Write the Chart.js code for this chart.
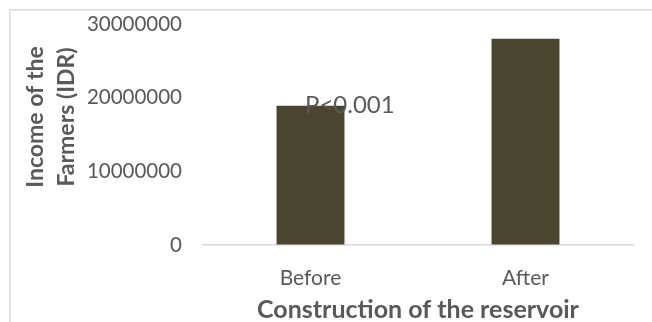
<!DOCTYPE html>
<html>
<head>
<meta charset="utf-8">
<script src="https://cdn.jsdelivr.net/npm/chart.js@4.4.1/dist/chart.umd.min.js"></script>
<style>
  html, body { margin: 0; padding: 0; background: #ffffff; }
  #wrap { width: 652px; height: 322px; position: relative; }
</style>
</head>
<body>
<div id="wrap"><canvas id="chart" width="652" height="322"></canvas></div>
<script>
// Farmers' income before and after the reservoir was built (IDR)
const categories = ['Before', 'After'];
const incomeValues = [18900000, 28000000];
const yTickValues = [0, 10000000, 20000000, 30000000];
const xAxisTitle = 'Construction of the reservoir';
const yAxisTitleLines = ['Income of the', 'Farmers (IDR)'];
const significanceText = 'P<0.001';

const TEXT_GRAY = '#595959';
const LINE_GRAY = '#d9d9d9';
const BAR_COLOR = '#4a452e';
const FONT = 'Lato, "Open Sans", sans-serif';

// Outer frame, rotated two-line y title and the significance note
const decorations = {
  id: 'decorations',
  beforeDraw(chart) {
    const ctx = chart.ctx;
    ctx.save();
    ctx.fillStyle = '#ffffff';
    ctx.fillRect(0, 0, chart.width, chart.height);
    ctx.strokeStyle = LINE_GRAY;
    ctx.lineWidth = 1.5;
    ctx.beginPath();
    ctx.moveTo(9.75, chart.height + 2);
    ctx.lineTo(9.75, 9.75);
    ctx.lineTo(chart.width + 2, 9.75);
    ctx.stroke();
    ctx.restore();
  },
  afterDraw(chart) {
    const ctx = chart.ctx;
    const area = chart.chartArea;
    ctx.save();
    // y axis title, reading bottom to top
    ctx.fillStyle = TEXT_GRAY;
    ctx.font = 'bold 23px ' + FONT;
    ctx.textAlign = 'center';
    ctx.textBaseline = 'alphabetic';
    const titleY = 117;
    const baselines = [42.5, 73.5];
    yAxisTitleLines.forEach((line, i) => {
      ctx.save();
      ctx.translate(baselines[i], titleY);
      ctx.rotate(-Math.PI / 2);
      ctx.fillText(line, 0, 0);
      ctx.restore();
    });
    // significance note next to the first bar
    ctx.font = '24px ' + FONT;
    ctx.textAlign = 'left';
    ctx.fillText(significanceText, area.left + 102, 112.5);
    ctx.restore();
  }
};

new Chart(document.getElementById('chart'), {
  type: 'bar',
  data: {
    labels: categories,
    datasets: [{
      data: incomeValues,
      backgroundColor: BAR_COLOR,
      borderWidth: 0,
      categoryPercentage: 1.0,
      barPercentage: 0.316
    }]
  },
  options: {
    responsive: false,
    devicePixelRatio: 1,
    animation: false,
    layout: { padding: { left: 0, right: 19, top: 24, bottom: 0 } },
    plugins: {
      legend: { display: false },
      tooltip: { enabled: false }
    },
    scales: {
      x: {
        grid: { display: false },
        border: { display: true, color: LINE_GRAY, width: 1.5 },
        ticks: {
          color: TEXT_GRAY,
          font: { family: FONT, size: 21 },
          padding: 13
        },
        title: {
          display: true,
          text: xAxisTitle,
          color: TEXT_GRAY,
          font: { family: FONT, size: 25, weight: 'bold', lineHeight: 1.0 },
          padding: { top: 0, bottom: 0 }
        },
        afterFit(scale) { scale.height = 77; }
      },
      y: {
        min: 0,
        max: 30000000,
        // invisible tick marks keep the labels clear of the plot
        grid: {
          display: true,
          drawOnChartArea: false,
          drawTicks: true,
          tickLength: 21,
          color: 'rgba(0,0,0,0)'
        },
        border: { display: false },
        afterBuildTicks(scale) {
          scale.ticks = yTickValues.map(v => ({ value: v }));
        },
        ticks: {
          color: TEXT_GRAY,
          font: { family: FONT, size: 20.5 },
          padding: 0,
          callback: v => String(v)
        },
        afterFit(scale) { scale.width = 203; }
      }
    }
  },
  plugins: [decorations]
});
</script>
</body>
</html>
